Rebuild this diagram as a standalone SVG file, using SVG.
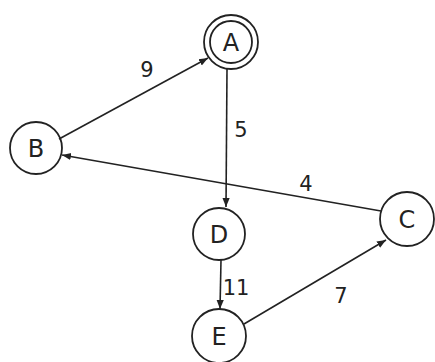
<svg xmlns="http://www.w3.org/2000/svg" width="435" height="362" viewBox="0 0 435 362">
<style>
.n{fill:none;stroke:#222;stroke-width:1.8}
.t{font-family:"DejaVu Sans",sans-serif;font-size:24px;fill:#222;text-anchor:middle;dominant-baseline:central}
.l{font-family:"DejaVu Sans",sans-serif;font-size:21px;fill:#222;text-anchor:middle;dominant-baseline:central}
.e{stroke:#222;stroke-width:1.6;fill:none;marker-end:url(#ah)}
</style>
<defs>
<marker id="ah" viewBox="0 0 10 10" refX="10" refY="5" markerWidth="9" markerHeight="9" markerUnits="userSpaceOnUse" orient="auto">
<path d="M0,1 L10,5 L0,9 z" fill="#222"/>
</marker>
</defs>
<rect width="435" height="362" fill="#fff"/>
<g id="edges">
<line class="e" x1="59" y1="139" x2="208" y2="58"/>
<line class="e" x1="227" y1="69" x2="226" y2="207"/>
<line class="e" x1="381" y1="211" x2="62" y2="155"/>
<line class="e" x1="221" y1="260" x2="220" y2="309"/>
<line class="e" x1="244" y1="324" x2="386" y2="240"/>
<text class="l" x="147" y="70">9</text>
<text class="l" x="241" y="130">5</text>
<text class="l" x="306" y="184">4</text>
<text class="l" x="236" y="288">11</text>
<text class="l" x="341" y="296">7</text>
</g>
<g id="A"><circle class="n" cx="231" cy="42" r="27"/><circle class="n" cx="231" cy="42" r="21"/><text class="t" x="231" y="43">A</text></g>
<g id="B"><circle class="n" cx="36" cy="148" r="26"/><text class="t" x="36" y="149">B</text></g>
<g id="C"><circle class="n" cx="407" cy="219" r="27"/><text class="t" x="407" y="220">C</text></g>
<g id="D"><circle class="n" cx="219" cy="234" r="26"/><text class="t" x="219" y="235">D</text></g>
<g id="E"><circle class="n" cx="219" cy="336" r="27"/><text class="t" x="219" y="337">E</text></g>
</svg>
